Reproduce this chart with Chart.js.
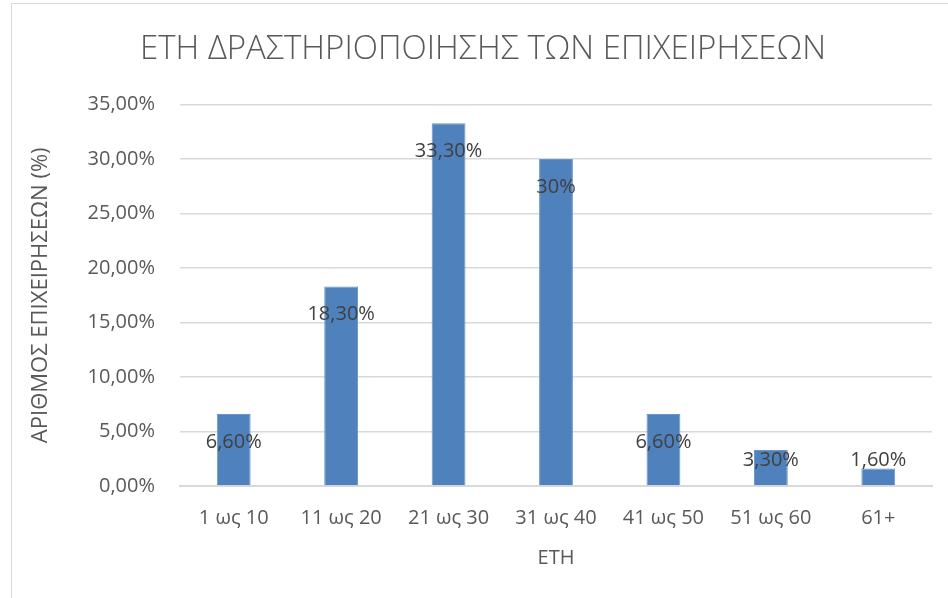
<!DOCTYPE html>
<html>
<head>
<meta charset="utf-8">
<script src="https://cdn.jsdelivr.net/npm/chart.js@4/dist/chart.umd.min.js"></script>
<style>
  html, body { margin: 0; padding: 0; background: #ffffff; }
  #wrap { position: relative; width: 948px; height: 598px; overflow: hidden; }
  #frame { position: absolute; left: 11px; top: 3px; width: 960px; height: 620px;
           border: 1.5px solid #d9d9d9; box-sizing: border-box; }
  canvas { position: absolute; left: 0; top: 0; }
</style>
</head>
<body>
<div id="wrap">
  <div id="frame"></div>
  <canvas id="c" width="948" height="598"></canvas>
</div>
<script>
// Years of activity of the businesses, share of businesses (%)
const categories = ['1 ως 10', '11 ως 20', '21 ως 30', '31 ως 40', '41 ως 50', '51 ως 60', '61+'];
const shares = [6.6, 18.3, 33.3, 30, 6.6, 3.3, 1.6];
const valueLabels = ['6,60%', '18,30%', '33,30%', '30%', '6,60%', '3,30%', '1,60%'];
const yTicks = [0, 5, 10, 15, 20, 25, 30, 35];

const FONT = "'Open Sans', 'Noto Sans', sans-serif";
const GREY = '#595959';

// Value labels sit inside the top of each bar; short bars keep them above the base line
const barLabels = {
  id: 'barLabels',
  afterDatasetsDraw(chart) {
    const ctx = chart.ctx;
    const meta = chart.getDatasetMeta(0);
    const base = chart.scales.y.getPixelForValue(0);
    ctx.save();
    ctx.font = '20px ' + FONT;
    ctx.fillStyle = '#404040';
    ctx.textAlign = 'center';
    ctx.textBaseline = 'middle';
    meta.data.forEach((bar, i) => {
      const y = Math.min(bar.y + 28, base - 26);
      ctx.fillText(valueLabels[i], bar.x, y);
    });
    ctx.restore();
  }
};

new Chart(document.getElementById('c'), {
  type: 'bar',
  data: {
    labels: categories,
    datasets: [{
      data: shares,
      backgroundColor: '#4f81bd',
      borderColor: '#6b95c8',
      borderWidth: 1,
      barPercentage: 0.315,
      categoryPercentage: 1
    }]
  },
  options: {
    responsive: false,
    animation: false,
    devicePixelRatio: 1,
    layout: { padding: { left: 34, right: 16, top: 0, bottom: 0 } },
    plugins: {
      legend: { display: false },
      tooltip: { enabled: false },
      title: {
        display: true,
        text: 'ΕΤΗ ΔΡΑΣΤΗΡΙΟΠΟΙΗΣΗΣ ΤΩΝ ΕΠΙΧΕΙΡΗΣΕΩΝ',
        color: GREY,
        font: { family: FONT, size: 33, weight: '300' },
        padding: { top: 30, bottom: 35 }
      }
    },
    scales: {
      y: {
        min: 0,
        max: 35,
        afterBuildTicks(scale) { scale.ticks = yTicks.map(v => ({ value: v })); },
        afterFit(scale) { scale.width = 146; },
        ticks: {
          color: GREY,
          font: { family: FONT, size: 20 },
          padding: 25,
          callback: v => v.toFixed(2).replace('.', ',') + '%'
        },
        grid: { color: '#d9d9d9', lineWidth: 1.5, drawTicks: false },
        border: { display: false },
        title: {
          display: true,
          text: 'ΑΡΙΘΜΟΣ ΕΠΙΧΕΙΡΗΣΕΩΝ (%)',
          color: GREY,
          font: { family: FONT, size: 22 },
          padding: { top: -6, bottom: 0 }
        }
      },
      x: {
        grid: { display: false, drawTicks: false },
        border: { color: '#d9d9d9', width: 2 },
        ticks: {
          color: GREY,
          font: { family: FONT, size: 20 },
          padding: 20
        },
        title: {
          display: true,
          text: 'ΕΤΗ',
          color: GREY,
          font: { family: FONT, size: 20 },
          padding: { top: 10, bottom: 28 }
        },
        afterFit(scale) { scale.height = 112; }
      }
    }
  },
  plugins: [barLabels]
});
</script>
</body>
</html>
